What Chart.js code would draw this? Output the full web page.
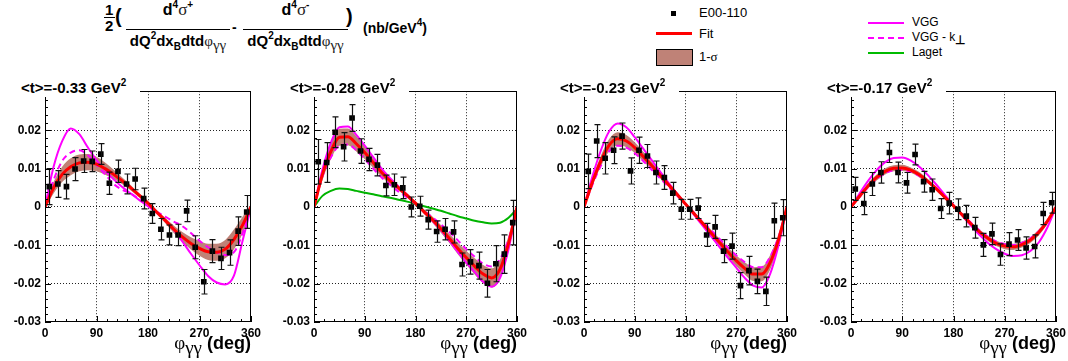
<!DOCTYPE html>
<html>
<head>
<meta charset="utf-8">
<script src="https://cdn.jsdelivr.net/npm/chart.js@4.4.0/dist/chart.umd.min.js"></script>
<style>
body{margin:0;background:#fff;width:1068px;height:361px;overflow:hidden;position:relative;font-family:"Liberation Sans",Arial,sans-serif;color:#000;}
canvas{position:absolute;top:80px;}
.ttl{position:absolute;top:77px;height:20px;width:119px;padding-left:7px;background:#fff;font-weight:bold;font-size:15px;line-height:21px;white-space:nowrap;z-index:2;}
.ttl sup{font-size:10px;line-height:0;vertical-align:7px;}
.xt{position:absolute;top:332px;width:200px;text-align:right;white-space:nowrap;font-weight:bold;font-size:18px;}
.sym{font-family:"Liberation Serif","Times New Roman",serif;font-weight:normal;}
.xt .sym{font-size:19px;}
.xt sub{font-size:12px;line-height:0;vertical-align:-5px;}
.f{position:absolute;font-weight:bold;white-space:nowrap;}
.frac{position:absolute;top:1px;text-align:center;font-weight:bold;white-space:nowrap;}
.frac .num{font-size:16px;line-height:17px;padding-bottom:11px;border-bottom:1px solid #000;}
.frac .den{font-size:15px;line-height:16px;margin-top:3px;}
.frac sup,.f sup{font-size:10px;line-height:0;vertical-align:7px;}
.frac sub{font-size:10px;line-height:0;vertical-align:-4px;}
.frac .num .sym{font-size:17px;color:#222;}
.frac .den .sym{font-size:15px;color:#222;}
.lg{position:absolute;font-size:13px;white-space:nowrap;}
.ln{position:absolute;height:0;}
</style>
</head>
<body>

<!-- header formula -->
<div class="f" style="left:105px;top:1px;font-size:15px;">1</div>
<div style="position:absolute;left:104px;top:17px;width:11px;border-top:1px solid #000;"></div>
<div class="f" style="left:105px;top:17px;font-size:15px;">2</div>
<div class="f" style="left:115px;top:5px;font-size:20px;">(</div>
<div class="frac" style="left:126px;width:104px;"><div class="num">d<sup>4</sup><span class="sym">σ</span><sup>+</sup></div><div class="den">dQ<sup>2</sup>dx<sub>B</sub>dtd<span class="sym">φ</span><sub class="sym">γγ</sub></div></div>
<div class="f" style="left:232px;top:19px;font-size:14px;">-</div>
<div class="frac" style="left:243px;width:105px;"><div class="num">d<sup>4</sup><span class="sym">σ</span><sup>-</sup></div><div class="den">dQ<sup>2</sup>dx<sub>B</sub>dtd<span class="sym">φ</span><sub class="sym">γγ</sub></div></div>
<div class="f" style="left:346px;top:5px;font-size:20px;">)</div>
<div class="f" style="left:363px;top:20px;font-size:14px;">(nb/GeV<sup>4</sup>)</div>

<!-- legends -->
<div style="position:absolute;left:671px;top:11px;width:5px;height:5px;background:#000;"></div>
<div class="lg" style="left:699px;top:5px;">E00-110</div>
<div class="ln" style="left:656px;top:32px;width:36px;border-top:3px solid #f00;"></div>
<div class="lg" style="left:699px;top:26px;">Fit</div>
<div style="position:absolute;left:656px;top:49px;width:35px;height:15px;background:#bf8277;border:1px solid #000;"></div>
<div class="lg" style="left:699px;top:49px;">1-<span class="sym">σ</span></div>
<div class="ln" style="left:868px;top:22px;width:36px;border-top:2px solid #f0f;"></div>
<div class="lg" style="left:912px;top:15px;font-size:12px;">VGG</div>
<div class="ln" style="left:868px;top:37px;width:36px;border-top:2px dashed #f0f;"></div>
<div class="lg" style="left:912px;top:30px;font-size:12px;">VGG - k<sub style="font-weight:bold;font-size:12px;line-height:0;">⊥</sub></div>
<div class="ln" style="left:868px;top:52px;width:36px;border-top:2px solid #0b0;"></div>
<div class="lg" style="left:912px;top:45px;font-size:12px;">Laget</div>

<script>
// bin centres of the data points (deg)
const phiPts = [7.5, 22.5, 37.5, 52.5, 67.5, 82.5, 97.5, 112.5, 127.5, 142.5, 157.5, 172.5, 187.5, 202.5, 217.5, 232.5, 247.5, 262.5, 277.5, 292.5, 307.5, 322.5, 337.5, 352.5];
// sampling of the curves (deg)
const phiGrid = [0, 15, 30, 45, 60, 75, 90, 105, 120, 135, 150, 165, 180, 195, 210, 225, 240, 255, 270, 285, 300, 315, 330, 345, 360];
const xTicks = [0, 90, 180, 270, 360];
const yTicks = [-0.03, -0.02, -0.01, 0, 0.01, 0.02];
const tLabels = ["-0.33", "-0.28", "-0.23", "-0.17"];

// <t> = -0.33
const pts1 = [0.0053, 0.006, 0.0053, 0.0099, 0.012, 0.0119, 0.0138, 0.0062, 0.0093, 0.006, 0.0073, 0.0022, -0.0017, -0.0058, -0.0073, -0.0073, -0.001, -0.0105, -0.0195, -0.0115, -0.0134, -0.0119, -0.0063, -0.0013];
const err1 = [0.0047, 0.0035, 0.0032, 0.003, 0.003, 0.0027, 0.0027, 0.0029, 0.0029, 0.0026, 0.0028, 0.0027, 0.0026, 0.0028, 0.0026, 0.0028, 0.0028, 0.003, 0.0032, 0.003, 0.0029, 0.0033, 0.0037, 0.0043];
const fit1 = [0, 0.005, 0.0085, 0.0105, 0.0115, 0.0117, 0.0112, 0.01, 0.0085, 0.0068, 0.005, 0.003, 0.001, -0.0013, -0.0035, -0.0058, -0.0078, -0.0095, -0.0108, -0.0117, -0.0118, -0.011, -0.0085, -0.0048, 0];
const sig1 = [0.0005, 0.0015, 0.002, 0.0022, 0.0022, 0.0021, 0.0019, 0.0016, 0.0012, 0.0009, 0.0007, 0.0005, 0.0004, 0.0005, 0.0007, 0.001, 0.0013, 0.0016, 0.0019, 0.0021, 0.0022, 0.0024, 0.0026, 0.0022, 0.0008];
const vgg1 = [0, 0.0105, 0.0172, 0.0205, 0.019, 0.0155, 0.0122, 0.0095, 0.0072, 0.0052, 0.0035, 0.0018, 0.0002, -0.0015, -0.0035, -0.006, -0.009, -0.0122, -0.0152, -0.018, -0.0197, -0.0202, -0.018, -0.009, 0];
const vggk1 = [0, 0.007, 0.012, 0.0142, 0.0148, 0.0135, 0.011, 0.0085, 0.006, 0.0045, 0.0035, 0.002, 0.0003, -0.0012, -0.0025, -0.0038, -0.005, -0.0068, -0.0088, -0.0105, -0.0118, -0.0125, -0.0118, -0.007, 0];

// <t> = -0.28
const pts2 = [0.0118, 0.0116, 0.0195, 0.0157, 0.0232, 0.0146, 0.0124, 0.0109, 0.0056, 0.0058, 0.005, 0.0, 0.0002, -0.0033, -0.0064, -0.0058, -0.0065, -0.015, -0.0143, -0.0153, -0.0199, -0.0148, -0.0123, -0.0041];
const err2 = [0.0058, 0.0052, 0.004, 0.0037, 0.0035, 0.0032, 0.0029, 0.0028, 0.0027, 0.0028, 0.0028, 0.0026, 0.0026, 0.0025, 0.0028, 0.0028, 0.0029, 0.003, 0.0032, 0.0035, 0.0036, 0.0047, 0.005, 0.0058];
const fit2 = [0, 0.0085, 0.0145, 0.0182, 0.0183, 0.0165, 0.0142, 0.0116, 0.009, 0.0068, 0.005, 0.003, 0.001, -0.0012, -0.0033, -0.0057, -0.0082, -0.0108, -0.0132, -0.0155, -0.0175, -0.0185, -0.0162, -0.0095, 0];
const sig2 = [0.0005, 0.0015, 0.002, 0.0022, 0.0022, 0.002, 0.0017, 0.0014, 0.0011, 0.0009, 0.0007, 0.0006, 0.0005, 0.0006, 0.0008, 0.001, 0.0012, 0.0015, 0.0018, 0.0021, 0.0024, 0.0025, 0.0025, 0.002, 0.0008];
const vgg2 = [0, 0.0098, 0.0168, 0.0208, 0.021, 0.0188, 0.016, 0.013, 0.01, 0.0075, 0.0053, 0.0032, 0.001, -0.0013, -0.0036, -0.006, -0.0088, -0.0117, -0.0145, -0.017, -0.0195, -0.0208, -0.0185, -0.011, 0];
const vggk2 = [0, 0.008, 0.013, 0.016, 0.0163, 0.0148, 0.0125, 0.01, 0.0077, 0.0058, 0.004, 0.0025, 0.0008, -0.001, -0.0027, -0.0045, -0.0065, -0.0087, -0.011, -0.013, -0.0148, -0.0155, -0.0135, -0.0085, 0];
const laget2 = [0, 0.0029, 0.0042, 0.0048, 0.0047, 0.0042, 0.0037, 0.0033, 0.0028, 0.0024, 0.0019, 0.0014, 0.0008, 0.0002, -0.0004, -0.001, -0.0017, -0.0024, -0.003, -0.0036, -0.004, -0.0043, -0.0041, -0.0028, -0.0005];

// <t> = -0.23
const pts3 = [0.0093, 0.0172, 0.0127, 0.0148, 0.0185, 0.0094, 0.0148, 0.0133, 0.009, 0.0077, 0.0036, -0.0006, -0.0006, -0.0003, -0.0073, -0.0052, -0.0115, -0.0102, -0.0205, -0.0166, -0.0194, -0.022, -0.0036, -0.0028];
const err3 = [0.0045, 0.0043, 0.0041, 0.0035, 0.0034, 0.0034, 0.0034, 0.003, 0.003, 0.0031, 0.0028, 0.0026, 0.0026, 0.0027, 0.003, 0.003, 0.003, 0.0034, 0.0034, 0.0037, 0.0032, 0.0037, 0.0046, 0.0047];
const fit3 = [0, 0.0065, 0.012, 0.0162, 0.0178, 0.0172, 0.0155, 0.0132, 0.0108, 0.0083, 0.0058, 0.0033, 0.0008, -0.0017, -0.0042, -0.0067, -0.0092, -0.0117, -0.014, -0.016, -0.0175, -0.0175, -0.0145, -0.0085, 0];
const sig3 = [0.0004, 0.001, 0.0014, 0.0016, 0.0017, 0.0016, 0.0014, 0.0012, 0.001, 0.0008, 0.0006, 0.0005, 0.0004, 0.0005, 0.0006, 0.0008, 0.001, 0.0012, 0.0014, 0.0016, 0.0018, 0.0019, 0.0019, 0.0015, 0.0006];
const vgg3 = [0, 0.008, 0.0148, 0.0198, 0.0218, 0.0208, 0.0182, 0.0152, 0.0122, 0.0092, 0.0063, 0.0035, 0.0008, -0.002, -0.0048, -0.0076, -0.0104, -0.0132, -0.0158, -0.0185, -0.0205, -0.021, -0.0175, -0.01, 0];
const vggk3 = [0, 0.0058, 0.0108, 0.0146, 0.016, 0.0155, 0.014, 0.012, 0.0097, 0.0075, 0.0052, 0.003, 0.0007, -0.0015, -0.0038, -0.006, -0.0083, -0.0105, -0.0126, -0.0144, -0.0157, -0.0157, -0.013, -0.0078, 0];

// <t> = -0.17
const pts4 = [0.0047, 0.0009, 0.006, 0.009, 0.0142, 0.009, 0.0063, 0.0137, 0.0066, 0.0045, -0.0004, 0.001, -0.0006, -0.0024, -0.0054, -0.0099, -0.007, -0.0124, -0.0097, -0.0086, -0.0107, -0.0103, -0.0017, 0.0011];
const err4 = [0.003, 0.0029, 0.003, 0.0028, 0.0026, 0.0027, 0.0027, 0.0027, 0.0027, 0.0028, 0.0026, 0.0028, 0.0027, 0.0028, 0.0027, 0.003, 0.0028, 0.0028, 0.003, 0.0027, 0.0029, 0.003, 0.0029, 0.0027];
const fit4 = [0, 0.0028, 0.0055, 0.0077, 0.0093, 0.0101, 0.0102, 0.0096, 0.0084, 0.0067, 0.0047, 0.0025, 0.0003, -0.002, -0.0043, -0.0064, -0.0081, -0.0095, -0.0102, -0.0104, -0.0098, -0.0086, -0.0066, -0.0037, 0];
const sig4 = [0.0003, 0.0006, 0.0007, 0.0008, 0.0008, 0.0008, 0.0008, 0.0007, 0.0007, 0.0006, 0.0005, 0.0004, 0.0004, 0.0004, 0.0005, 0.0006, 0.0007, 0.0007, 0.0008, 0.0008, 0.0008, 0.0008, 0.0008, 0.0007, 0.0004];
const vgg4 = [0, 0.0035, 0.0068, 0.0096, 0.0117, 0.0128, 0.0129, 0.0121, 0.0105, 0.0083, 0.0058, 0.0031, 0.0005, -0.0022, -0.0048, -0.0072, -0.0093, -0.011, -0.0122, -0.0128, -0.0126, -0.0115, -0.0092, -0.0053, 0];
const vggk4 = [0, 0.0026, 0.0052, 0.0073, 0.0088, 0.0096, 0.0097, 0.0092, 0.0081, 0.0065, 0.0046, 0.0025, 0.0003, -0.0019, -0.004, -0.006, -0.0077, -0.009, -0.0097, -0.0099, -0.0094, -0.0082, -0.0063, -0.0036, 0];

const panels = [
    { left: 45, width: 206, pts: pts1, err: err1, fit: fit1, sig: sig1, vgg: vgg1, vggk: vggk1, laget: null },
    { left: 314, width: 203, pts: pts2, err: err2, fit: fit2, sig: sig2, vgg: vgg2, vggk: vggk2, laget: laget2 },
    { left: 584, width: 203, pts: pts3, err: err3, fit: fit3, sig: sig3, vgg: vgg3, vggk: vggk3, laget: null },
    { left: 851, width: 205, pts: pts4, err: err4, fit: fit4, sig: sig4, vgg: vgg4, vggk: vggk4, laget: null }
];

const xy = (xs, ys) => xs.map((x, i) => ({ x: x, y: ys[i] }));

// error bars for the data points
const errorBars = {
    id: 'errorBars',
    afterDatasetsDraw(chart) {
        const ds = chart.data.datasets[0];
        const xs = chart.scales.x, ys = chart.scales.y;
        const ctx = chart.ctx, a = chart.chartArea;
        ctx.save();
        ctx.beginPath();
        ctx.rect(a.left, a.top, a.right - a.left, a.bottom - a.top);
        ctx.clip();
        ctx.strokeStyle = '#111';
        ctx.lineWidth = 1.2;
        ds.data.forEach((p, i) => {
            const e = ds.errors[i];
            const px = Math.round(xs.getPixelForValue(p.x)) + 0.5;
            const y1 = ys.getPixelForValue(p.y + e), y2 = ys.getPixelForValue(p.y - e);
            ctx.beginPath();
            ctx.moveTo(px, y1); ctx.lineTo(px, y2);
            ctx.moveTo(px - 3, y1); ctx.lineTo(px + 3, y1);
            ctx.moveTo(px - 3, y2); ctx.lineTo(px + 3, y2);
            ctx.stroke();
        });
        ctx.restore();
    }
};

// ROOT style frame with inward ticks
const frame = {
    id: 'frame',
    afterDraw(chart) {
        const ctx = chart.ctx, a = chart.chartArea;
        const xs = chart.scales.x, ys = chart.scales.y;
        ctx.save();
        ctx.strokeStyle = '#000';
        ctx.lineWidth = 1;
        ctx.strokeRect(Math.round(a.left) + 0.5, Math.round(a.top) + 0.5, Math.round(a.right - a.left) - 1, Math.round(a.bottom - a.top) - 1);
        ctx.beginPath();
        for (let k = 0; k <= 30; k++) {
            const v = -0.03 + k * 0.002;
            const py = Math.round(ys.getPixelForValue(v)) + 0.5;
            const len = k % 5 === 0 ? 6 : 3;
            ctx.moveTo(a.left, py); ctx.lineTo(a.left + len, py);
        }
        for (let k = 0; k <= 20; k++) {
            const v = k * 18;
            const px = Math.round(xs.getPixelForValue(v)) + 0.5;
            const len = v % 90 === 0 ? 6 : 3;
            ctx.moveTo(px, a.bottom); ctx.lineTo(px, a.bottom - len);
        }
        ctx.moveTo(Math.round(xs.getPixelForValue(90)) + 0.5, a.bottom); ctx.lineTo(Math.round(xs.getPixelForValue(90)) + 0.5, a.bottom - 6);
        ctx.moveTo(Math.round(xs.getPixelForValue(270)) + 0.5, a.bottom); ctx.lineTo(Math.round(xs.getPixelForValue(270)) + 0.5, a.bottom - 6);
        ctx.stroke();
        ctx.restore();
    }
};

const tickFont = { family: '"Liberation Sans", Arial, sans-serif', size: 12, weight: 'bold' };

const createPanel = (p, n) => {
    const canvas = document.createElement('canvas');
    const w = 45 + p.width + 15, h = 281;
    canvas.width = w; canvas.height = h;
    canvas.style.left = (p.left - 45) + 'px';
    canvas.style.width = w + 'px'; canvas.style.height = h + 'px';
    document.body.appendChild(canvas);

    const curve = (data, color, width, dash) => ({
        data: data, borderColor: color, borderWidth: width, borderDash: dash || [],
        pointRadius: 0, cubicInterpolationMode: 'monotone', fill: false
    });
    const datasets = [
        { label: 'E00-110', data: xy(phiPts, p.pts), errors: p.err, showLine: false, pointStyle: 'rect', pointRadius: 4, pointBackgroundColor: '#000', pointBorderColor: '#000', pointBorderWidth: 0 },
        curve(xy(phiGrid, p.fit), '#ff0000', 3),
        curve(xy(phiGrid, p.vgg), '#ff00ff', 2),
        curve(xy(phiGrid, p.vggk), '#ff00ff', 2, [6, 4])
    ];
    if (p.laget) datasets.push(curve(xy(phiGrid, p.laget), '#00b400', 2));
    datasets.push(
        { data: xy(phiGrid, p.fit.map((v, i) => v + p.sig[i])), borderWidth: 0, pointRadius: 0, cubicInterpolationMode: 'monotone', fill: false },
        { data: xy(phiGrid, p.fit.map((v, i) => v - p.sig[i])), borderWidth: 0, pointRadius: 0, cubicInterpolationMode: 'monotone', fill: '-1', backgroundColor: '#bf8277' }
    );

    new Chart(canvas, {
        type: 'line',
        data: { datasets: datasets },
        options: {
            responsive: false,
            animation: false,
            layout: { padding: { top: 8, right: 15, bottom: 0, left: 0 } },
            plugins: { legend: { display: false }, tooltip: { enabled: false }, filler: { drawTime: 'beforeDatasetsDraw' } },
            scales: {
                x: {
                    type: 'linear', min: 0, max: 360,
                    afterBuildTicks: s => { s.ticks = xTicks.map(v => ({ value: v })); },
                    afterFit: s => { s.height = 39; },
                    grid: { drawTicks: false, color: c => (c.tick && c.tick.value > 0 && c.tick.value < 360) ? '#222' : 'rgba(0,0,0,0)', lineWidth: 1 },
                    border: { display: false, dash: [1, 2] },
                    ticks: { font: tickFont, color: '#000', padding: 4, maxRotation: 0 }
                },
                y: {
                    type: 'linear', min: -0.03, max: 0.0302,
                    afterBuildTicks: s => { s.ticks = yTicks.map(v => ({ value: v })); },
                    afterFit: s => { s.width = 45; },
                    grid: { drawTicks: false, color: c => (c.tick && c.tick.value > -0.03) ? '#222' : 'rgba(0,0,0,0)', lineWidth: 1 },
                    border: { display: false, dash: [1, 2] },
                    ticks: { font: tickFont, color: '#000', padding: 4, callback: v => (Math.abs(v) < 1e-9 ? '0' : String(Math.round(v * 100) / 100)) }
                }
            }
        },
        plugins: [errorBars, frame]
    });

    const t = document.createElement('div');
    t.className = 'ttl';
    t.style.left = (p.left - 31) + 'px';
    t.innerHTML = '&lt;t&gt;=' + tLabels[n] + ' GeV<sup>2</sup>';
    document.body.appendChild(t);

    const xt = document.createElement('div');
    xt.className = 'xt';
    xt.style.left = (p.left + p.width - 200) + 'px';
    xt.innerHTML = '<span class="sym">φ</span><sub class="sym">γγ</sub> (deg)';
    document.body.appendChild(xt);
};

panels.forEach(createPanel);
</script>
</body>
</html>
